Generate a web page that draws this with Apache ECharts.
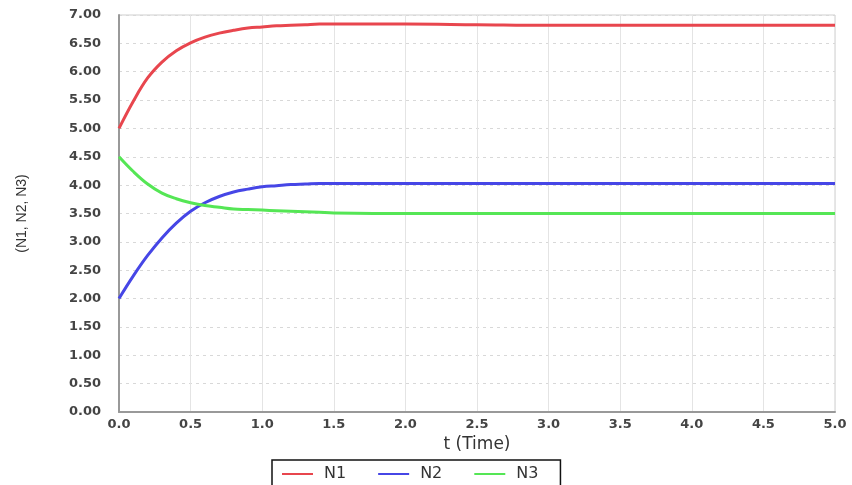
<!DOCTYPE html>
<html>
<head>
<meta charset="utf-8">
<script src="https://cdn.jsdelivr.net/npm/echarts@6/dist/echarts.min.js"></script>
<style>html,body{margin:0;padding:0;background:#fff}#c{width:852px;height:485px}</style>
</head>
<body>
<div id="c"></div>
<script>
const times = [0, 0.1, 0.2, 0.3, 0.4, 0.5, 0.6, 0.7, 0.8, 0.9, 1.0, 1.1, 1.2, 1.3, 1.4, 1.5, 2.0, 2.5, 3.0, 3.5, 4.0, 4.5, 5.0];
const n1 = [5.00, 5.48, 5.89, 6.17, 6.37, 6.51, 6.61, 6.68, 6.73, 6.77, 6.79, 6.81, 6.82, 6.83, 6.84, 6.84, 6.84, 6.83, 6.82, 6.82, 6.82, 6.82, 6.82];
const n2 = [2.00, 2.40, 2.76, 3.07, 3.33, 3.54, 3.69, 3.80, 3.88, 3.93, 3.97, 3.99, 4.01, 4.02, 4.03, 4.03, 4.03, 4.03, 4.03, 4.03, 4.03, 4.03, 4.03];
const n3 = [4.50, 4.24, 4.02, 3.86, 3.76, 3.69, 3.64, 3.61, 3.58, 3.57, 3.56, 3.55, 3.54, 3.53, 3.52, 3.51, 3.50, 3.50, 3.50, 3.50, 3.50, 3.50, 3.50];
const seriesNames = ['N1', 'N2', 'N3'];
const xTitle = 't (Time)';
const yTitle = '(N1, N2, N3)';

const pairs = v => times.map((t, i) => [t, v[i]]);
const colors = ['#e8464e', '#4646e6', '#55e655'];
const chart = echarts.init(document.getElementById('c'), null, {renderer: 'canvas'});
const tickFont = {color: '#444', fontFamily: 'DejaVu Sans', fontWeight: 'bold', fontSize: 13};
chart.setOption({
  animation: false,
  grid: {left: 119, right: 17, top: 15, bottom: 73, show: true, borderColor: '#cfcfcf', borderWidth: 1},
  xAxis: {
    type: 'value', min: 0, max: 5, interval: 0.5,
    name: xTitle, nameLocation: 'middle', nameGap: 22,
    nameTextStyle: {fontFamily: 'DejaVu Sans', fontSize: 17, color: '#333'},
    axisLine: {show: true, lineStyle: {color: '#999', width: 2}},
    axisTick: {show: false},
    axisLabel: Object.assign({margin: 6, formatter: v => v.toFixed(1)}, tickFont),
    splitLine: {show: true, lineStyle: {color: '#e4e4e4', width: 1}}
  },
  yAxis: {
    type: 'value', min: 0, max: 7, interval: 0.5,
    name: yTitle, nameLocation: 'middle', nameGap: 90, nameRotate: 90,
    nameTextStyle: {fontFamily: 'Liberation Sans', fontSize: 14, color: '#333'},
    axisLine: {show: true, lineStyle: {color: '#999', width: 2}},
    axisTick: {show: false},
    axisLabel: Object.assign({margin: 18, formatter: v => v.toFixed(2)}, tickFont),
    splitLine: {show: true, lineStyle: {color: '#d8d8d8', width: 1, type: [3, 4]}}
  },
  legend: {
    left: 272, top: 460,
    data: seriesNames,
    icon: 'rect', itemWidth: 31, itemHeight: 2, itemGap: 32,
    borderColor: '#111', borderWidth: 1.5, padding: [6, 22, 12, 10],
    textStyle: {fontFamily: 'DejaVu Sans', fontSize: 16, color: '#333', padding: [0, 0, 0, 6]}
  },
  series: seriesNames.map((name, i) => ({
    name, type: 'line', smooth: 0.4, symbol: 'none',
    data: pairs([n1, n2, n3][i]),
    lineStyle: {color: colors[i], width: 3},
    itemStyle: {color: colors[i]}
  }))
});
</script>
</body>
</html>
